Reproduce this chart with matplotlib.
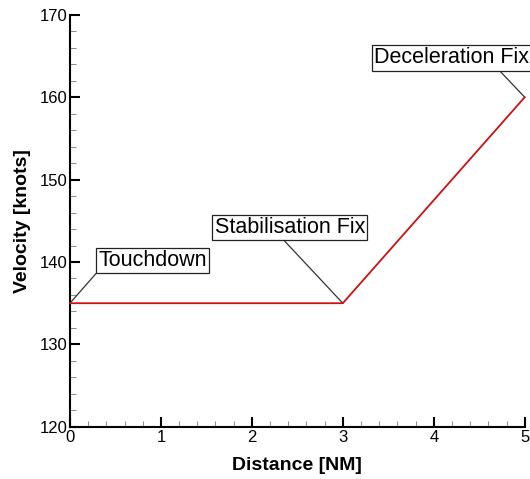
import matplotlib
matplotlib.use("Agg")
import matplotlib.pyplot as plt
from matplotlib.ticker import MultipleLocator

# Dados do perfil de aproximação
distancia = [0, 3, 5]
velocidade = [135, 135, 160]

# Rótulos dos pontos (um por ponto do perfil)
rotulos = ['Touchdown', 'Stabilisation Fix', 'Deceleration Fix']

plt.rcParams['font.family'] = ['Liberation Sans', 'DejaVu Sans']

fig = plt.figure(figsize=(5.3, 4.79), dpi=100)
ax = fig.add_axes([0.132, 0.109, 0.858, 0.860])

ax.plot(distancia, velocidade, color='#cc1111', linewidth=1.3, clip_on=False, zorder=3)

# Posição das caixas (canto inferior esquerdo) e início das linhas de chamada
caixa_pos = [(0.31, 138.9), (1.59, 142.9), (3.34, 163.5)]
chamada_pos = [(0.31, 138.9), (2.33, 142.9), (4.70, 163.5)]

for i in range(len(rotulos)):
    ax.plot([distancia[i], chamada_pos[i][0]],
            [velocidade[i], chamada_pos[i][1]], color='#333333', linewidth=0.9,
            clip_on=False, zorder=2)
    ax.text(caixa_pos[i][0], caixa_pos[i][1], rotulos[i], fontsize=15.5,
            ha='left', va='bottom', zorder=4, clip_on=False,
            bbox=dict(boxstyle='square,pad=0.1', facecolor='white',
                      edgecolor='#222222', linewidth=0.9))

ax.set_xlim(0, 5)
ax.set_ylim(120, 170)
ax.xaxis.set_major_locator(MultipleLocator(1))
ax.xaxis.set_minor_locator(MultipleLocator(0.2))
ax.yaxis.set_major_locator(MultipleLocator(10))
ax.yaxis.set_minor_locator(MultipleLocator(2))

ax.spines['top'].set_visible(False)
ax.spines['right'].set_visible(False)
ax.spines['left'].set_linewidth(1.5)
ax.spines['bottom'].set_linewidth(1.5)

ax.tick_params(which='major', direction='in', length=7, width=1.5, labelsize=12, pad=2)
ax.tick_params(which='minor', direction='in', length=4, width=0.6, color='#777777')

ax.set_xlabel('Distance [NM]', fontsize=14, fontweight='bold', labelpad=9)
ax.set_ylabel('Velocity [knots]', fontsize=14, fontweight='bold', labelpad=6)

fig.savefig('out.png', dpi=100)
